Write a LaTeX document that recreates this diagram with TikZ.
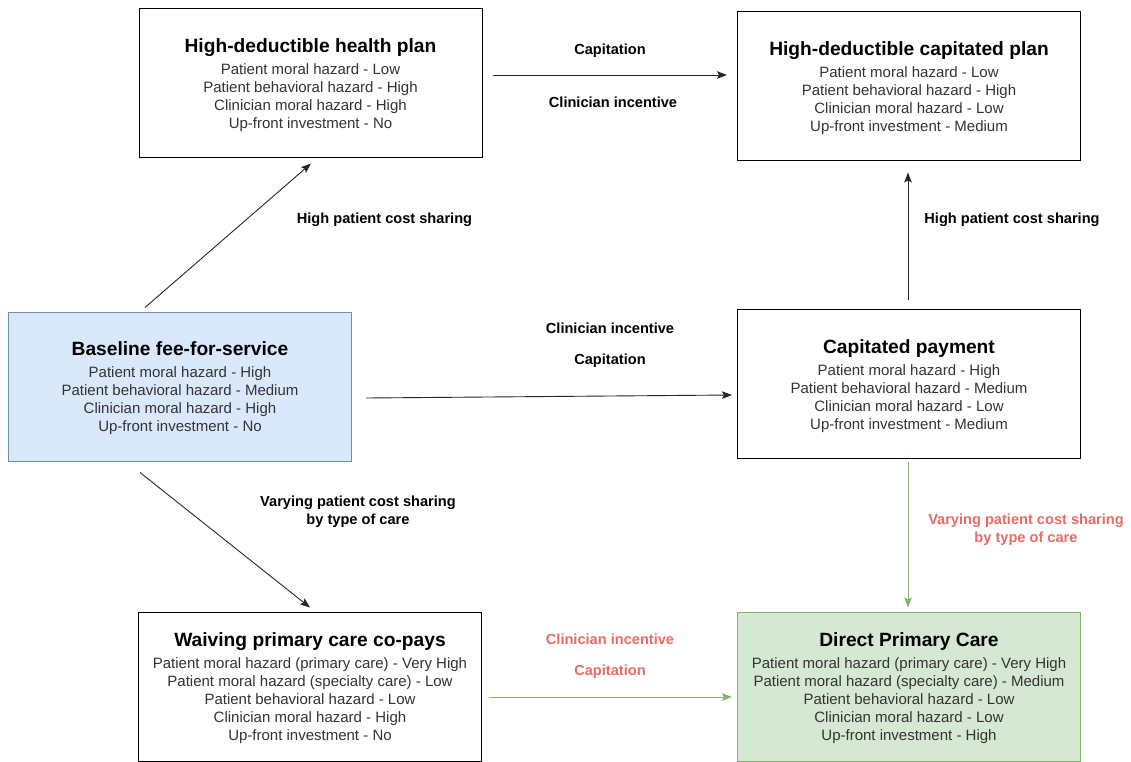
\documentclass[tikz,border=0pt]{standalone}
\usepackage{fontspec}
\setmainfont{Liberation Sans}
\usetikzlibrary{arrows.meta,calc}
\definecolor{bluefill}{HTML}{DAE8FC}
\definecolor{blueline}{HTML}{6C8EBF}
\definecolor{greenfill}{HTML}{D5E8D4}
\definecolor{greenline}{HTML}{82B366}
\definecolor{redtext}{HTML}{EA6B66}
\definecolor{bodytext}{HTML}{333333}
\newcommand{\boxtitle}[1]{{\fontsize{19.2}{19}\selectfont\bfseries\color{black}\rule{0pt}{17.5pt}#1}\\[4pt]}
\begin{document}
\begin{tikzpicture}[x=1pt,y=-1pt,
  box/.style={draw=black,line width=1pt,fill=white,minimum width=343pt,minimum height=149pt,
    align=center,inner sep=0pt,text=bodytext,font=\fontsize{15}{18}\selectfont},
  lbl/.style={align=center,font=\fontsize{14.6}{18}\selectfont\bfseries,text=black},
  redlbl/.style={lbl,text=redtext},
  arr/.style={line width=0.9pt,draw=black!85,-{Stealth[length=10pt,width=7.5pt,inset=2pt]}},
  garr/.style={arr,draw=greenline,color=greenline}]
\useasboundingbox (0,0) rectangle (1131,762);
\fill[white] (0,0) rectangle (1131,762);

\node[box] (hdhp) at (310.5,83.5) {\boxtitle{High-deductible health plan}Patient moral hazard - Low\\Patient behavioral hazard - High\\Clinician moral hazard - High\\Up-front investment - No};
\node[box] (hdcp) at (909,86.5) {\boxtitle{High-deductible capitated plan}Patient moral hazard - Low\\Patient behavioral hazard - High\\Clinician moral hazard - Low\\Up-front investment - Medium};
\node[box,fill=bluefill,draw=blueline] (base) at (180,386.5) {\boxtitle{Baseline fee-for-service}Patient moral hazard - High\\Patient behavioral hazard - Medium\\Clinician moral hazard - High\\Up-front investment - No};
\node[box] (cap) at (909,384) {\boxtitle{Capitated payment}Patient moral hazard - High\\Patient behavioral hazard - Medium\\Clinician moral hazard - Low\\Up-front investment - Medium};
\node[box] (waiv) at (310,686.5) {\boxtitle{Waiving primary care co-pays}Patient moral hazard (primary care) - Very High\\Patient moral hazard (specialty care) - Low\\Patient behavioral hazard - Low\\Clinician moral hazard - High\\Up-front investment - No};
\node[box,fill=greenfill,draw=greenline] (dpc) at (909,686.5) {\boxtitle{Direct Primary Care}Patient moral hazard (primary care) - Very High\\Patient moral hazard (specialty care) - Medium\\Patient behavioral hazard - Low\\Clinician moral hazard - Low\\Up-front investment - High};

% connectors
\draw[arr] ([shift={(10,-8.5)}]hdhp.east) -- ([shift={(-10,-11.5)}]hdcp.west);
\draw[arr] ([shift={(-35,-4)}]base.north) -- ([shift={(0.5,5)}]hdhp.south);
\draw[arr] ([shift={(14,11.5)}]base.east) -- ([shift={(-5,11)}]cap.west);
\draw[arr] ([shift={(-1,-9)}]cap.north) -- ([shift={(-1,11)}]hdcp.south);
\draw[arr] ([shift={(-40,11)}]base.south) -- ([shift={(0,-4)}]waiv.north);
\draw[garr] ([shift={(-1,3)}]cap.south) -- ([shift={(-1,-4)}]dpc.north);
\draw[garr] ([shift={(7,10.5)}]waiv.east) -- ([shift={(-5,10.5)}]dpc.west);

% labels
\node[lbl] (l1) at (610,51) {Capitation};
\node[lbl] (l2) at (613,102) {Clinician incentive};
\node[lbl] (l3) at (384.5,220) {High patient cost sharing};
\node[lbl] (l4) at (610,328) {Clinician incentive};
\node[lbl] (l5) at (610,361) {Capitation};
\node[lbl] (l6) at (1012,220) {High patient cost sharing};
\node[lbl] (l7) at (358,512) {Varying patient cost sharing\\by type of care};
\node[redlbl] (l8) at (1026,530) {Varying patient cost sharing\\by type of care};
\node[redlbl] (l9) at (610,639) {Clinician incentive};
\node[redlbl] (l10) at (610,672) {Capitation};
\end{tikzpicture}
\end{document}
